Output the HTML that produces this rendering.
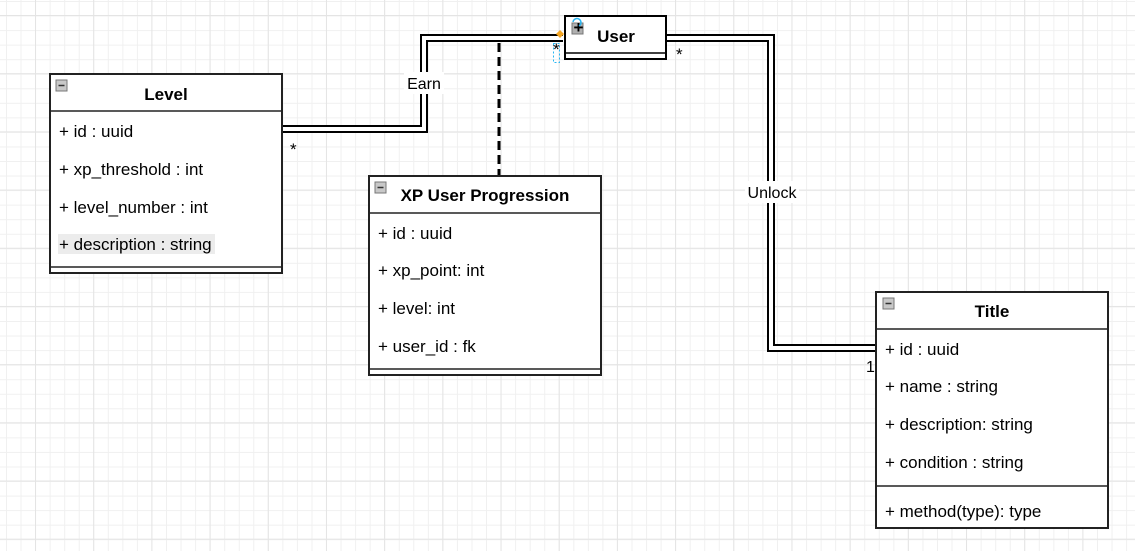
<!DOCTYPE html>
<html><head><meta charset="utf-8"><style>
html,body{margin:0;padding:0;}
body{width:1135px;height:551px;overflow:hidden;background:#fff;
background-image:
linear-gradient(to right,#e4e4e4 1px,transparent 1px),
linear-gradient(to bottom,#e4e4e4 1px,transparent 1px),
linear-gradient(to right,#f0f0f0 1px,transparent 1px),
linear-gradient(to bottom,#f0f0f0 1px,transparent 1px);
background-size:58.2px 58.2px,58.2px 58.2px,14.55px 14.55px,14.55px 14.55px;
background-position:35px 0,0 15px,6px 0,0 1px;
font-family:"Liberation Sans",sans-serif;}
svg{position:absolute;left:0;top:0;}
text{font-family:"Liberation Sans",sans-serif;font-size:17px;fill:#000;}
.b{font-weight:bold;font-size:17px;}
.s{font-size:16px;}
</style></head><body>
<svg width="1135" height="551" viewBox="0 0 1135 551">
<g fill="none" stroke-linejoin="miter">
<path d="M282 129 H424 V38 H563" stroke="#000" stroke-width="8"/>
<path d="M282 129 H424 V38 H563" stroke="#fff" stroke-width="4"/>
<path d="M666 38 H771 V348 H876" stroke="#000" stroke-width="8"/>
<path d="M666 38 H771 V348 H876" stroke="#fff" stroke-width="4"/>
</g>
<line x1="499" y1="43" x2="499" y2="176" stroke="#000" stroke-width="3" stroke-dasharray="9,5"/>
<rect x="404" y="72" width="40" height="22" fill="#fff"/>
<text x="424" y="89" text-anchor="middle" class="s">Earn</text>
<rect x="745" y="181" width="54" height="22" fill="#fff"/>
<text x="772" y="198" text-anchor="middle" class="s">Unlock</text>
<text x="290" y="155" font-size="14">*</text>
<text x="676" y="60" font-size="14">*</text>
<text x="866" y="372" class="s">1</text>
<rect x="553.5" y="43.5" width="6" height="19" fill="none" stroke="#29b6f2" stroke-width="1" stroke-dasharray="2,2"/>
<text x="553" y="55" font-size="12">*</text>
<path d="M560 30 l4 4 -4 4 -4 -4z" fill="#f5a623"/>

<rect x="565" y="16" width="101" height="43" fill="#fff" stroke="#000" stroke-width="2"/>
<line x1="565" y1="53" x2="666" y2="53" stroke="#000" stroke-width="1.5"/>
<text x="616" y="42" text-anchor="middle" class="b">User</text>
<rect x="572" y="23" width="11" height="11" fill="#b0b0b0" stroke="#777"/>
<text x="573.5" y="33" font-size="11" font-weight="bold">+</text>
<path d="M573 22 a4 4 0 1 1 6 4" fill="none" stroke="#29b6f2" stroke-width="1.5"/>

<rect x="50" y="74" width="232" height="199" fill="#fff" stroke="#222" stroke-width="2"/>
<line x1="50" y1="111" x2="282" y2="111" stroke="#222" stroke-width="1.5"/>
<line x1="50" y1="267" x2="282" y2="267" stroke="#222" stroke-width="1.5"/>
<rect x="56" y="80" width="11" height="11" fill="#c8c8c8" stroke="#777"/>
<line x1="58.5" y1="85.5" x2="64.5" y2="85.5" stroke="#333" stroke-width="1.5"/>
<text x="166" y="100" text-anchor="middle" class="b">Level</text>
<text x="59" y="137">+ id : uuid</text>
<text x="59" y="175">+ xp_threshold : int</text>
<text x="59" y="213">+ level_number : int</text>
<rect x="58" y="234" width="157" height="20" fill="#ececec"/>
<text x="59" y="250">+ description : string</text>

<rect x="369" y="176" width="232" height="199" fill="#fff" stroke="#222" stroke-width="2"/>
<line x1="369" y1="213" x2="601" y2="213" stroke="#222" stroke-width="1.5"/>
<line x1="369" y1="369" x2="601" y2="369" stroke="#222" stroke-width="1.5"/>
<rect x="375" y="182" width="11" height="11" fill="#c8c8c8" stroke="#777"/>
<line x1="377.5" y1="187.5" x2="383.5" y2="187.5" stroke="#333" stroke-width="1.5"/>
<text x="485" y="201" text-anchor="middle" class="b">XP User Progression</text>
<text x="378" y="239">+ id : uuid</text>
<text x="378" y="276">+ xp_point: int</text>
<text x="378" y="314">+ level: int</text>
<text x="378" y="352">+ user_id : fk</text>

<rect x="876" y="292" width="232" height="236" fill="#fff" stroke="#222" stroke-width="2"/>
<line x1="876" y1="329" x2="1108" y2="329" stroke="#222" stroke-width="1.5"/>
<line x1="876" y1="486" x2="1108" y2="486" stroke="#222" stroke-width="1.5"/>
<rect x="883" y="298" width="11" height="11" fill="#c8c8c8" stroke="#777"/>
<line x1="885.5" y1="303.5" x2="891.5" y2="303.5" stroke="#333" stroke-width="1.5"/>
<text x="992" y="317" text-anchor="middle" class="b">Title</text>
<text x="885" y="355">+ id : uuid</text>
<text x="885" y="392">+ name : string</text>
<text x="885" y="430">+ description: string</text>
<text x="885" y="468">+ condition : string</text>
<text x="885" y="517">+ method(type): type</text>
</svg>
</body></html>
